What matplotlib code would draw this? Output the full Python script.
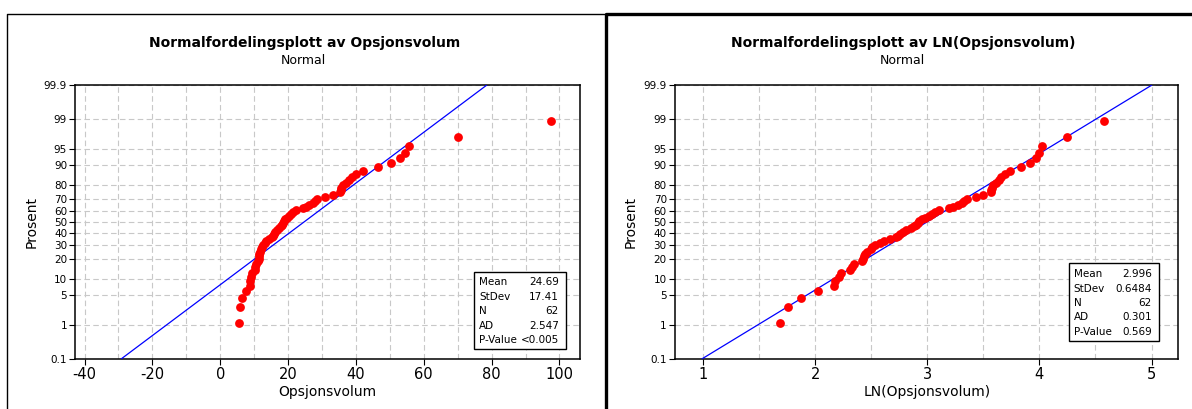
import numpy as np
import matplotlib
matplotlib.use("Agg")
import matplotlib.pyplot as plt
from matplotlib.lines import Line2D
from matplotlib.patches import Rectangle
from statistics import NormalDist

# --- data (sorted Opsjonsvolum, n = 62) ---
opsjonsvolum = [5.4, 5.8, 6.5, 7.6, 8.7, 8.8, 9.1, 9.3, 10.1, 10.3, 10.4,
                11.2, 11.3, 11.4, 11.5, 11.7, 12.1, 12.3, 12.6, 13.2, 13.6,
                14.4, 15.2, 15.5, 15.8, 16.1, 16.6, 17.3, 17.8, 18.2, 18.5,
                18.7, 19.1, 19.7, 20.3, 20.9, 21.5, 22.2, 24.3, 25.3, 26.3,
                27.4, 27.9, 28.6, 30.9, 33.1, 35.3, 35.5, 35.7, 36.2, 37.0,
                38.1, 38.9, 40.0, 42.1, 46.5, 50.4, 53.0, 54.6, 55.7, 70.1, 97.5]

# fitted normal parameters as printed in the legend boxes
mean_raw, sd_raw = 24.69, 17.41
mean_ln, sd_ln = 2.996, 0.6484

box_labels = ["Mean", "StDev", "N", "AD", "P-Value"]
box_raw = ["24.69", "17.41", "62", "2.547", "<0.005"]
box_ln = ["2.996", "0.6484", "62", "0.301", "0.569"]

pct_ticks = [0.1, 1, 5, 10, 20, 30, 40, 50, 60, 70, 80, 90, 95, 99, 99.9]
pct_labels = ["0.1", "1", "5", "10", "20", "30", "40", "50", "60", "70",
              "80", "90", "95", "99", "99.9"]

raw_ticks = [-40, -20, 0, 20, 40, 60, 80, 100]
raw_minor = [-30, -10, 10, 30, 50, 70, 90]
ln_ticks = [1, 2, 3, 4, 5]
ln_minor = [1.5, 2.5, 3.5, 4.5]

W, H = 1192, 409
nd = NormalDist()


def fx(px):
    return px / W


def fy(py):
    return 1 - py / H


def pct_to_z(p):
    p = np.clip(np.asarray(p, dtype=float), 1e-6, 100 - 1e-6)
    return np.vectorize(lambda v: nd.inv_cdf(v / 100), otypes=[float])(p)


def z_to_pct(z):
    z = np.asarray(z, dtype=float)
    return np.vectorize(lambda v: nd.cdf(v) * 100, otypes=[float])(z)


def prob_panel(ax, values, mean, sd, ticks, minor, xlim, xlabel):
    n = len(values)
    # Minitab median ranks (i - 0.3) / (n + 0.4)
    pct = [(i + 1 - 0.3) / (n + 0.4) * 100 for i in range(n)]
    ax.set_yscale("function", functions=(pct_to_z, z_to_pct))

    p_end = np.array([0.1, 99.9])
    ax.plot(mean + sd * pct_to_z(p_end), p_end, color="#0000FF", lw=0.9, zorder=3)
    ax.scatter(values, pct, s=40, color="#FF0000", linewidths=0, zorder=4)

    ax.set_xlim(*xlim)
    ax.set_ylim(0.1, 99.9)
    ax.set_xticks(ticks)
    ax.set_xticks(minor, minor=True)
    ax.set_xticklabels([str(t) for t in ticks], fontsize=10.5, family="DejaVu Sans")
    ax.set_yticks(pct_ticks)
    ax.set_yticks([], minor=True)
    ax.set_yticklabels(pct_labels, fontsize=7.5, family="DejaVu Sans")
    ax.tick_params(axis="both", which="major", length=4, width=0.8, pad=2)
    ax.tick_params(axis="x", which="minor", length=0)
    ax.grid(True, which="both", axis="x", color="#C8C8C8", lw=0.8, linestyle=(0, (5, 3)))
    ax.grid(True, which="major", axis="y", color="#C8C8C8", lw=0.8, linestyle=(0, (5, 3)))
    ax.set_axisbelow(True)
    for s in ax.spines.values():
        s.set_linewidth(1.1)
    ax.set_xlabel(xlabel, fontsize=10, family="DejaVu Sans", labelpad=2)
    ax.set_ylabel("Prosent", fontsize=10, family="DejaVu Sans", labelpad=4)


def stat_box(fig, x0, y0, x1, y1, rows, lab_x, val_x, values):
    fig.add_artist(Rectangle((fx(x0), fy(y1)), fx(x1 - x0), (y1 - y0) / H,
                             transform=fig.transFigure, facecolor="white",
                             edgecolor="black", lw=1.0, zorder=5))
    for lab, val, ry in zip(box_labels, values, rows):
        fig.text(fx(lab_x), fy(ry), lab, fontsize=7.5, family="DejaVu Sans",
                 ha="left", va="center", zorder=6)
        fig.text(fx(val_x), fy(ry), val, fontsize=7.5, family="DejaVu Sans",
                 ha="right", va="center", zorder=6)


fig = plt.figure(figsize=(W / 100, H / 100), dpi=100)

# panel frames (left: thin, right: heavy)
fig.add_artist(Line2D([fx(7), fx(7), fx(605)], [fy(409), fy(14), fy(14)],
                      color="black", lw=1.0, transform=fig.transFigure))
fig.add_artist(Line2D([fx(605.5), fx(605.5), fx(1192)], [fy(409), fy(13.5), fy(13.5)],
                      color="black", lw=2.4, transform=fig.transFigure))

ax1 = fig.add_axes([fx(75.4), fy(358.7), fx(579.8 - 75.4), 273.4 / H])
ax2 = fig.add_axes([fx(675.1), fy(358.7), fx(1178.3 - 675.1), 273.4 / H])

prob_panel(ax1, opsjonsvolum, mean_raw, sd_raw, raw_ticks, raw_minor,
           (-42.7, 106.0), "Opsjonsvolum")
prob_panel(ax2, np.log(opsjonsvolum), mean_ln, sd_ln, ln_ticks, ln_minor,
           (0.75, 5.239), "LN(Opsjonsvolum)")

for cx, title in [(305, "Normalfordelingsplott av Opsjonsvolum"),
                  (903.5, "Normalfordelingsplott av LN(Opsjonsvolum)")]:
    fig.text(fx(cx), fy(42.7), title, fontsize=10, fontweight="bold",
             family="DejaVu Sans", ha="center", va="center")
    fig.text(fx(cx - 1.5), fy(60.3), "Normal", fontsize=9,
             family="DejaVu Sans", ha="center", va="center")

stat_box(fig, 473.8, 271.7, 565.6, 349.0, [282.3, 297.0, 311.3, 326.0, 340.3],
         479, 559, box_raw)
stat_box(fig, 1068.5, 263.3, 1159.0, 341.0, [274.3, 288.7, 303.0, 317.3, 332.0],
         1073.8, 1151.9, box_ln)

fig.savefig("out.png", dpi=100)
